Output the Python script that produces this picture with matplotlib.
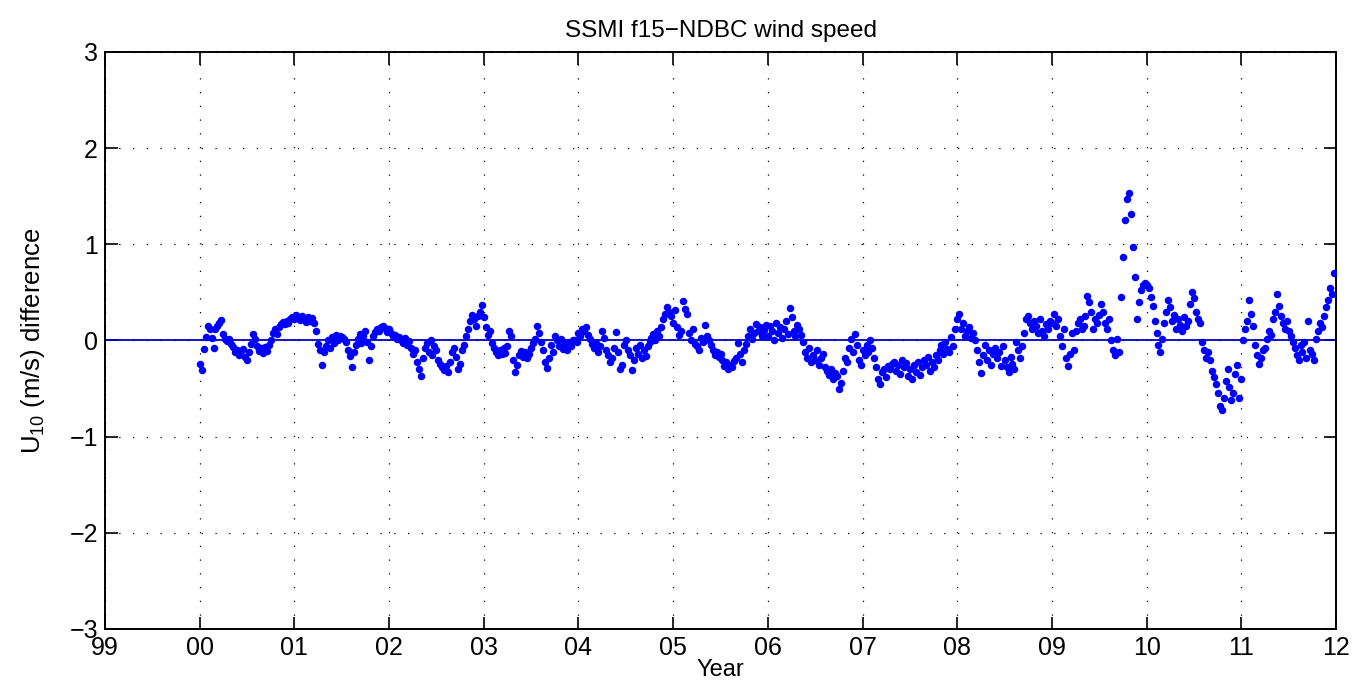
import numpy as np
import matplotlib
matplotlib.use("Agg")
import matplotlib.pyplot as plt

plt.rcParams['font.family'] = ['Liberation Sans', 'DejaVu Sans']
plt.rcParams['mathtext.fontset'] = 'custom'
plt.rcParams['mathtext.rm'] = 'Liberation Sans'

# SSM/I f15 minus NDBC buoy wind speed, 48 samples per year (one row = one quarter)
n_per_year = 48
years = np.arange(2000, 2012)

d2000 = [-0.24, -0.31, -0.09, 0.04, 0.15, 0.12, 0.03, -0.08, 0.12, 0.15, 0.18, 0.21,
         0.07, 0.02, -0.01, 0.02, -0.04, -0.07, -0.12, -0.10, -0.15, -0.11, -0.09, -0.17,
         -0.20, -0.12, -0.04, 0.07, 0.02, -0.06, -0.11, -0.08, -0.13, -0.07, -0.11, -0.05,
         0.00, 0.08, 0.12, 0.07, 0.14, 0.17, 0.19, 0.17, 0.20, 0.18, 0.22, 0.24]
d2001 = [0.22, 0.26, 0.24, 0.21, 0.25, 0.22, 0.19, 0.24, 0.20, 0.23, 0.18, 0.10,
         -0.04, -0.10, -0.26, -0.12, -0.06, 0.00, -0.08, 0.04, -0.03, 0.06, 0.01, 0.05,
         0.04, 0.02, -0.02, -0.10, -0.16, -0.28, -0.12, -0.05, 0.02, 0.07, -0.03, 0.05,
         0.10, -0.02, -0.20, -0.06, 0.05, 0.09, 0.12, 0.10, 0.14, 0.15, 0.13, 0.09]
d2002 = [0.12, 0.08, 0.05, 0.06, 0.02, 0.04, 0.00, -0.03, 0.03, -0.05, -0.01, -0.08,
         -0.14, -0.10, -0.22, -0.30, -0.37, -0.18, -0.08, -0.03, -0.12, 0.00, -0.15, -0.06,
         -0.10, -0.20, -0.24, -0.28, -0.31, -0.27, -0.33, -0.22, -0.12, -0.08, -0.17, -0.30,
         -0.24, -0.10, -0.05, 0.05, 0.12, 0.20, 0.26, 0.22, 0.15, 0.25, 0.30, 0.37]
d2003 = [0.24, 0.14, 0.06, 0.10, -0.03, -0.08, -0.12, -0.15, -0.10, -0.14, -0.08, -0.13,
         -0.06, 0.10, 0.05, -0.20, -0.33, -0.26, -0.15, -0.11, -0.17, -0.12, -0.18, -0.14,
         -0.08, -0.03, 0.02, 0.15, 0.08, -0.02, -0.10, -0.22, -0.29, -0.18, -0.05, -0.12,
         0.05, 0.00, -0.06, 0.02, -0.09, -0.04, -0.10, -0.03, -0.06, 0.00, 0.01, -0.02]
d2004 = [0.08, 0.05, 0.12, 0.10, 0.14, 0.06, 0.02, -0.04, -0.08, -0.03, -0.12, -0.06,
         0.10, 0.03, -0.10, -0.15, -0.22, -0.18, -0.08, 0.09, -0.12, -0.30, -0.26, -0.05,
         0.00, -0.10, -0.15, -0.31, -0.20, -0.08, -0.14, -0.05, -0.18, -0.10, -0.16, -0.06,
         -0.02, 0.03, 0.07, 0.01, 0.10, 0.05, 0.14, 0.22, 0.28, 0.35, 0.30, 0.25]
d2005 = [0.18, 0.32, 0.14, 0.06, 0.10, 0.41, 0.33, 0.28, 0.08, 0.00, 0.12, -0.04,
         -0.06, -0.10, 0.03, -0.02, 0.16, 0.05, 0.00, -0.05, -0.10, -0.15, -0.12, -0.17,
         -0.14, -0.20, -0.27, -0.22, -0.30, -0.25, -0.28, -0.21, -0.18, -0.03, -0.14, -0.22,
         -0.10, -0.04, 0.05, 0.12, 0.02, 0.08, 0.17, 0.10, 0.14, 0.05, 0.11, 0.16]
d2006 = [0.05, 0.15, 0.10, 0.00, 0.18, 0.08, 0.14, 0.03, 0.12, 0.20, 0.07, 0.34,
         0.24, 0.10, 0.05, 0.16, 0.12, 0.06, -0.02, -0.12, -0.18, -0.08, -0.22, -0.15,
         -0.20, -0.10, -0.25, -0.18, -0.14, -0.28, -0.32, -0.36, -0.30, -0.40, -0.34, -0.37,
         -0.50, -0.44, -0.32, -0.18, -0.22, -0.08, 0.02, -0.12, 0.07, -0.05, -0.20, -0.26]
d2007 = [-0.10, -0.15, -0.05, -0.12, 0.00, -0.08, -0.18, -0.28, -0.40, -0.45, -0.33, -0.30,
         -0.38, -0.27, -0.30, -0.24, -0.22, -0.32, -0.26, -0.35, -0.20, -0.28, -0.23, -0.37,
         -0.30, -0.40, -0.26, -0.33, -0.22, -0.36, -0.28, -0.20, -0.25, -0.17, -0.32, -0.22,
         -0.28, -0.15, -0.20, -0.10, -0.05, -0.14, -0.02, -0.09, -0.12, 0.04, -0.06, 0.12]
d2008 = [0.22, 0.28, 0.12, 0.18, 0.05, 0.10, 0.14, 0.03, 0.08, 0.00, -0.10, -0.22,
         -0.34, -0.15, -0.05, -0.20, -0.10, -0.25, -0.14, -0.08, -0.18, -0.12, -0.27, -0.06,
         -0.20, -0.28, -0.33, -0.17, -0.24, -0.30, -0.02, -0.10, -0.18, -0.06, 0.08, 0.22,
         0.25, 0.18, 0.12, 0.20, 0.15, 0.08, 0.22, 0.10, 0.05, 0.17, 0.12, 0.20]
d2009 = [0.18, 0.28, 0.15, 0.22, 0.05, -0.06, 0.12, -0.18, -0.27, -0.14, 0.08, -0.10,
         0.10, 0.18, 0.22, 0.12, 0.15, 0.25, 0.46, 0.40, 0.30, 0.12, 0.22, 0.18,
         0.26, 0.38, 0.30, 0.18, 0.12, 0.22, 0.00, -0.10, -0.15, 0.02, -0.12, 0.45,
         0.87, 1.25, 1.47, 1.53, 1.32, 0.97, 0.66, 0.22, 0.40, 0.52, 0.58, 0.60]
d2010 = [0.58, 0.55, 0.45, 0.36, 0.20, 0.08, -0.05, -0.12, 0.02, 0.18, 0.30, 0.42,
         0.35, 0.20, 0.26, 0.12, 0.22, 0.16, 0.10, 0.24, 0.15, 0.20, 0.38, 0.50,
         0.44, 0.30, 0.22, 0.18, -0.02, -0.10, -0.18, -0.12, -0.20, -0.32, -0.38, -0.45,
         -0.55, -0.68, -0.72, -0.60, -0.42, -0.30, -0.48, -0.62, -0.55, -0.35, -0.25, -0.60]
d2011 = [-0.40, 0.00, 0.12, 0.20, 0.42, 0.28, 0.15, -0.05, -0.15, -0.24, -0.18, -0.10,
         -0.08, 0.02, 0.10, 0.06, 0.22, 0.30, 0.48, 0.36, 0.25, 0.18, 0.12, 0.20,
         0.10, 0.05, -0.02, -0.08, -0.15, -0.20, -0.05, -0.12, -0.02, -0.18, 0.20, -0.10,
         -0.14, -0.20, 0.02, 0.10, 0.18, 0.14, 0.25, 0.35, 0.42, 0.55, 0.48, 0.70]

diffs = [d2000, d2001, d2002, d2003, d2004, d2005,
         d2006, d2007, d2008, d2009, d2010, d2011]

tick_years = np.arange(1999, 2013)
tick_labels = ['99', '00', '01', '02', '03', '04', '05', '06',
               '07', '08', '09', '10', '11', '12']

# decimal-year time axis
t = np.concatenate([y + np.arange(n_per_year) / n_per_year for y in years])
u = np.concatenate([np.array(d) for d in diffs])

fig = plt.figure(figsize=(13.55, 6.97), dpi=100)
ax = fig.add_axes([0.0775, 0.0976, 0.9085, 0.8278])

ax.axhline(0, color='#0000c8', lw=1.3, zorder=2)
ax.plot(t, u, linestyle='none', marker='o', ms=5.4, mec='none', mfc='#0000ff', zorder=3)

ax.set_xlim(1999, 2012)
ax.set_ylim(-3, 3)
ax.set_xticks(tick_years)
ax.set_xticklabels(tick_labels)
ax.set_yticks(np.arange(-3, 4))
ax.set_yticklabels(['\u22123', '\u22122', '\u22121', '0', '1', '2', '3'])

ax.grid(True, color='k', linestyle=(0, (1, 10)), lw=0.9)
ax.tick_params(direction='in', length=9, width=1.2, top=True, right=True,
               labelsize=18, pad=5)
for s in ax.spines.values():
    s.set_linewidth(1.4)

ax.set_title('SSMI f15\u2212NDBC wind speed', fontsize=17.5, pad=11)
ax.set_xlabel('Year', fontsize=17, labelpad=-1)
ax.set_ylabel('U$_{\\mathregular{10}}$ (m/s) difference', fontsize=18.5, labelpad=16)

fig.savefig('out.png', dpi=100)
